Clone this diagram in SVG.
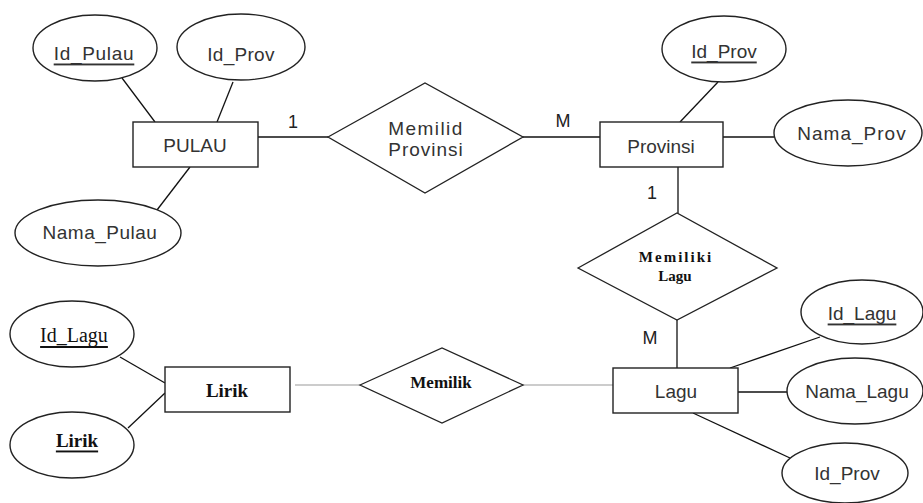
<svg xmlns="http://www.w3.org/2000/svg" width="923" height="503" viewBox="0 0 923 503">
<style>
.e{fill:#fff;stroke:#222;stroke-width:1.4}
.r{fill:#fff;stroke:#222;stroke-width:1.4}
.d{fill:#fff;stroke:#222;stroke-width:1.3}
.c line{stroke:#111;stroke-width:1.3}
.c line.g{stroke:#999;stroke-width:1.2}
.s{font-family:"Liberation Sans",Arial,sans-serif;font-size:19px;fill:#333;text-anchor:middle;dominant-baseline:central}
.t{font-family:"Liberation Serif","Times New Roman",serif;fill:#111;text-anchor:middle;dominant-baseline:central}
.u{text-decoration:underline}
.k{font-family:"Liberation Sans",Arial,sans-serif;font-size:18px;fill:#222;text-anchor:middle;dominant-baseline:central}
</style>
<rect width="923" height="503" fill="#fff"/>
<g id="connectors" class="c">
<line x1="122" y1="78" x2="155" y2="122"/>
<line x1="233" y1="82" x2="217" y2="122"/>
<line x1="190" y1="167" x2="157" y2="210"/>
<line x1="258" y1="137" x2="328" y2="137"/>
<line x1="523" y1="137" x2="600" y2="137"/>
<line x1="718" y1="82" x2="680" y2="122"/>
<line x1="723" y1="137" x2="774" y2="137"/>
<line x1="678" y1="167" x2="678" y2="213"/>
<line x1="677" y1="320" x2="677" y2="368"/>
<line x1="820" y1="337" x2="730" y2="368"/>
<line x1="738" y1="392" x2="787" y2="392"/>
<line x1="693" y1="413" x2="790" y2="458"/>
<line x1="120" y1="357" x2="165" y2="383"/>
<line x1="128" y1="428" x2="165" y2="393"/>
<line class="g" x1="295" y1="385" x2="360" y2="385"/>
<line class="g" x1="523" y1="385" x2="613" y2="385"/>
</g>
<g id="labels">
<text class="k" x="293" y="122">1</text>
<text class="k" x="563" y="121">M</text>
<text class="k" x="652" y="193">1</text>
<text class="k" x="650" y="338">M</text>
</g>
<g id="attr-id-pulau"><ellipse class="e" cx="95" cy="48" rx="62" ry="33"/><text class="s u" x="94" y="53" letter-spacing="0.7">Id_Pulau</text></g>
<g id="attr-id-prov-pulau"><ellipse class="e" cx="241" cy="47" rx="64" ry="33"/><text class="s" x="241" y="54" letter-spacing="0.3">Id_Prov</text></g>
<g id="attr-nama-pulau"><ellipse class="e" cx="98" cy="233" rx="83" ry="33"/><text class="s" x="100" y="232" letter-spacing="0.5">Nama_Pulau</text></g>
<g id="pulau"><rect class="r" x="133" y="122" width="125" height="45"/><text class="s" x="195" y="145" font-size="20">PULAU</text></g>
<g id="memilid-provinsi"><polygon class="d" points="328,137 425,83 523,137 425,193"/>
<text class="s" x="426" y="128" font-size="15" fill="#555" letter-spacing="1.4">Memilid</text>
<text class="s" x="426" y="149" font-size="15" fill="#555" letter-spacing="1">Provinsi</text></g>
<g id="provinsi"><rect class="r" x="600" y="122" width="123" height="45"/><text class="s" x="661" y="146" font-size="21">Provinsi</text></g>
<g id="attr-id-prov"><ellipse class="e" cx="724" cy="49" rx="62" ry="33"/><text class="s u" x="724" y="51">Id_Prov</text></g>
<g id="attr-nama-prov"><ellipse class="e" cx="848" cy="133" rx="74" ry="33"/><text class="s" x="852" y="133" letter-spacing="1">Nama_Prov</text></g>
<g id="memiliki-lagu"><polygon class="d" points="578,268 677,213 777,268 677,320"/>
<text class="t" x="676" y="257" font-size="15" font-weight="bold" letter-spacing="2">Memiliki</text>
<text class="t" x="675" y="276" font-size="15" font-weight="bold">Lagu</text></g>
<g id="lagu"><rect class="r" x="613" y="368" width="125" height="45"/><text class="s" x="676" y="391">Lagu</text></g>
<g id="attr-id-lagu"><ellipse class="e" cx="862" cy="312" rx="61" ry="32"/><text class="s u" x="862" y="313">Id_Lagu</text></g>
<g id="attr-nama-lagu"><ellipse class="e" cx="855" cy="391" rx="68" ry="33"/><text class="s" x="857" y="391">Nama_Lagu</text></g>
<g id="attr-id-prov-lagu"><ellipse class="e" cx="845" cy="473" rx="63" ry="30"/><text class="s" x="847" y="473">Id_Prov</text></g>
<g id="memilik"><polygon class="d" points="360,385 442,348 523,385 442,423"/>
<text class="t" x="441" y="382" font-size="17" font-weight="bold">Memilik</text></g>
<g id="lirik"><rect class="r" x="165" y="367" width="125" height="45"/><text class="t" x="227" y="390" font-size="19" font-weight="bold">Lirik</text></g>
<g id="attr-id-lagu-lirik"><ellipse class="e" cx="72" cy="334" rx="62" ry="33"/><text class="t u" x="74" y="335" font-size="20">Id_Lagu</text></g>
<g id="attr-lirik"><ellipse class="e" cx="72" cy="445" rx="62" ry="33"/><text class="t u" x="77" y="440" font-size="19" font-weight="bold">Lirik</text></g>
</svg>
